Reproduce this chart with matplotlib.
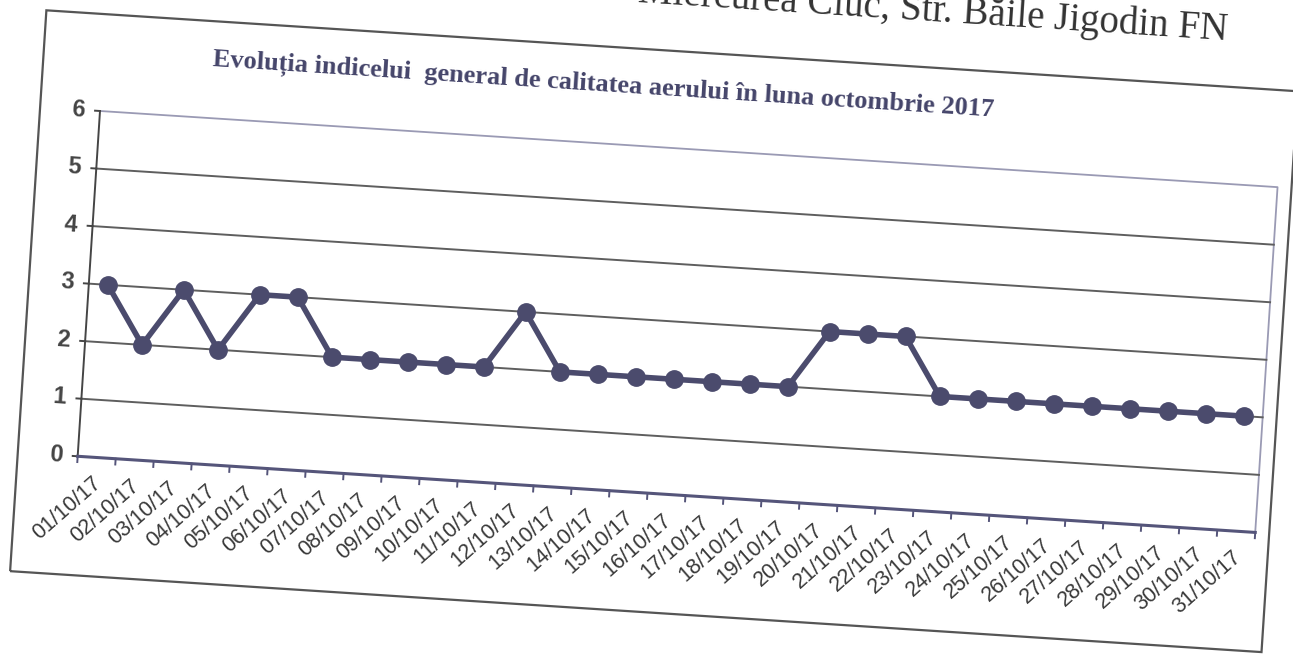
import numpy as np
import matplotlib
matplotlib.use('Agg')
import matplotlib.pyplot as plt
from matplotlib.transforms import Affine2D
from matplotlib.patches import Polygon

# data (air quality index, October 2017)
dates = ['%02d/10/17' % d for d in range(1, 32)]
index_values = [3, 2, 3, 2, 3, 3, 2, 2, 2, 2, 2, 3, 2, 2, 2, 2,
                2, 2, 2, 3, 3, 3, 2, 2, 2, 2, 2, 2, 2, 2, 2]
y_ticks = [0, 1, 2, 3, 4, 5, 6]
title = 'Evoluția indicelui  general de calitatea aerului în luna octombrie 2017'
header = 'Miercurea Ciuc, Str. Băile Jigodin FN'

W, H = 1293, 656
tilt = 3.7  # the scanned page is turned clockwise a bit
pivot = (100, 545)  # top-left corner of plot area, in pixels

line_color = '#4b4b6d'
grid_color = '#5e5e5e'
text_color = '#3a3a3a'

fig = plt.figure(figsize=(W/100, H/100), dpi=100)
fig.patch.set_facecolor('white')
ax = fig.add_axes([100/W, 199/H, 1180/W, 346/H])
n = len(dates)
ax.set_xlim(-0.5, n - 0.5)
ax.set_ylim(y_ticks[0], y_ticks[-1])
ax.axis('off')

rot = Affine2D().rotate_deg_around(pivot[0], pivot[1], -tilt)
tr = ax.transData + rot

# outer chart frame
fig.add_artist(Polygon([(40, 80), (1294, 80), (1294, 642), (40, 642)], closed=True,
                       fill=False, edgecolor='#555555', lw=1.6, transform=rot))

# plot area border (top + right), light
ax.plot([-0.5, n - 0.5, n - 0.5], [6, 6, 0], color='#9a9ab4', lw=1.3, transform=tr, clip_on=False)

# gridlines
for v in y_ticks[1:-1]:
    ax.plot([-0.5, n - 0.5], [v, v], color=grid_color, lw=1.4, transform=tr, clip_on=False)

# y axis + ticks
ax.plot([-0.5, -0.5], [0, 6], color='#454545', lw=1.4, transform=tr, clip_on=False)
for v in y_ticks:
    ax.plot([-0.63, -0.5], [v, v], color='#454545', lw=1.4, transform=tr, clip_on=False)
    ax.text(-0.9, v, str(v), ha='right', va='center', rotation=-tilt, rotation_mode='anchor',
            transform=tr, fontsize=17, fontweight='bold', color='#444444', family='Liberation Sans')

# x axis + ticks
ax.plot([-0.5, n - 0.5], [0, 0], color='#55557a', lw=2.2, transform=tr, clip_on=False)
for i in range(n + 1):
    ax.plot([i - 0.5, i - 0.5], [0, -0.1], color='#55557a', lw=1.4, transform=tr, clip_on=False)
for i, d in enumerate(dates):
    ax.text(i + 0.1, -0.4, d, ha='right', va='center', rotation=45 - tilt, rotation_mode='anchor',
            transform=tr, fontsize=15.5, color=text_color, family='Liberation Sans')

# data
ax.plot(range(n), index_values, '-o', color=line_color, lw=4, ms=12.5,
        transform=tr, clip_on=False)

# titles
fig.text(601, 603, title, transform=rot, ha='center', va='center', rotation=-tilt,
         rotation_mode='anchor', fontsize=19, fontweight='bold', family='Liberation Serif',
         color='#45456a')
fig.text(1220, 688, header, transform=rot, ha='right', va='baseline', rotation=-tilt,
         rotation_mode='anchor', fontsize=28, family='Liberation Serif', color='#333333')

fig.savefig('out.png', dpi=100)
